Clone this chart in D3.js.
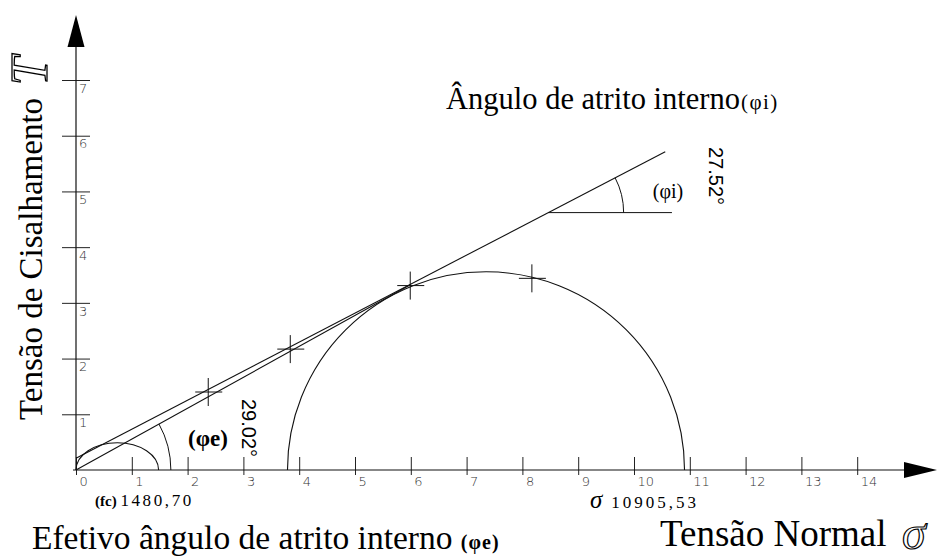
<!DOCTYPE html>
<html>
<head>
<meta charset="utf-8">
<script src="https://cdn.jsdelivr.net/npm/d3@7"></script>
<style>
  body { margin: 0; background: #fff; }
  svg { display: block; }
</style>
</head>
<body>
<svg id="chart" width="942" height="559"></svg>
<script>
// Axis tick values (stress units / 1000)
const xTickValues = [0, 1, 2, 3, 4, 5, 6, 7, 8, 9, 10, 11, 12, 13, 14];
const yTickValues = [1, 2, 3, 4, 5, 6, 7];

// Mohr circles: minor and major principal stresses
const circleSigma3 = [0, 3.79];
const circleSigma1 = [1.4807, 10.90553];
// the small circle is drawn flattened
const circleRise = [0.49, 3.558];

// Marked points on the envelope / circle
const pointSigma = [2.37, 3.84, 5.99, 8.17];
const pointTau = [1.40, 2.17, 3.31, 3.44];

// Failure envelopes
const phiInternal = 27.52;   // degrees
const phiEffective = 29.02;  // degrees
const cohesion = 0.21;
const envelopeEnd = 10.56;
const effectiveEnd = 6.0;
const phiRefLevel = 4.62;    // height of the horizontal used for the (φi) angle
const phiRefEnd = 10.68;
const arcRadiusE = 1.7;
const arcRadiusI = 1.35;

// Labels
const fcValue = "1480,70";
const sigmaValue = "10905,53";
const angleLabelI = "27.52°";
const angleLabelE = "29.02°";

const svg = d3.select("#chart");
const serif = "'Liberation Serif', 'Times New Roman', serif";
const sans = "'Liberation Sans', Arial, sans-serif";
const tickFont = "'DejaVu Sans', sans-serif";

const x = d3.scaleLinear().domain([0, 14]).range([76, 857.2]);
const y = d3.scaleLinear().domain([0, 7]).range([470, 80]);
const rad = d => d * Math.PI / 180;

const ink = "#111";

// ---- axes ----
const gx = svg.append("g").attr("transform", `translate(0,${y(0)})`)
  .call(d3.axisBottom(x).tickValues(xTickValues).tickFormat(d3.format("d")).tickSizeOuter(0));
gx.select(".domain").remove();
gx.selectAll(".tick line").attr("y1", -13).attr("y2", 5).attr("stroke", "#222").attr("stroke-width", 1);
gx.selectAll(".tick text")
  .attr("x", 3).attr("y", 7).attr("dy", "0.71em")
  .attr("text-anchor", "start")
  .attr("font-family", tickFont).attr("font-size", 13).attr("font-weight", 300)
  .attr("fill", "#333");

const gy = svg.append("g").attr("transform", `translate(${x(0)},0)`)
  .call(d3.axisLeft(y).tickValues(yTickValues).tickFormat(d3.format("d")).tickSizeOuter(0));
gy.select(".domain").remove();
gy.selectAll(".tick line").attr("x1", -14).attr("x2", 14).attr("stroke", "#222").attr("stroke-width", 1);
gy.selectAll(".tick text")
  .attr("x", 3).attr("y", 3).attr("dy", "0.71em")
  .attr("text-anchor", "start")
  .attr("font-family", tickFont).attr("font-size", 13).attr("font-weight", 300)
  .attr("fill", "#333");

// axis lines with arrow heads
svg.append("line")
  .attr("x1", x(0) - 3).attr("x2", 904).attr("y1", y(0)).attr("y2", y(0))
  .attr("stroke", ink).attr("stroke-width", 1.2);
svg.append("path")
  .attr("d", `M${904},${y(0) - 8}L${937},${y(0)}L${904},${y(0) + 8}Z`)
  .attr("fill", "#000");
svg.append("line")
  .attr("x1", x(0)).attr("x2", x(0)).attr("y1", y(0)).attr("y2", 46)
  .attr("stroke", ink).attr("stroke-width", 1.2);
svg.append("path")
  .attr("d", `M${x(0) - 8.5},47L${x(0)},15L${x(0) + 8.5},47Z`)
  .attr("fill", "#000");

// ---- Mohr circles ----
const circles = circleSigma3.map((s3, i) => ({ s3, s1: circleSigma1[i], rise: circleRise[i] }));
svg.append("g").selectAll("path").data(circles).join("path")
  .attr("d", c => {
    const rx = (x(c.s1) - x(c.s3)) / 2;
    const ry = y(0) - y(c.rise);
    return `M${x(c.s3)},${y(0)}A${rx},${ry} 0 0 1 ${x(c.s1)},${y(0)}`;
  })
  .attr("fill", "none").attr("stroke", ink).attr("stroke-width", 1.1);

// ---- envelopes ----
const tanI = Math.tan(rad(phiInternal));
const tanE = Math.tan(rad(phiEffective));
svg.append("line")
  .attr("x1", x(0)).attr("y1", y(cohesion))
  .attr("x2", x(envelopeEnd)).attr("y2", y(cohesion + tanI * envelopeEnd))
  .attr("stroke", ink).attr("stroke-width", 1.1);
svg.append("line")
  .attr("x1", x(0)).attr("y1", y(0))
  .attr("x2", x(effectiveEnd)).attr("y2", y(tanE * effectiveEnd))
  .attr("stroke", ink).attr("stroke-width", 1.1);

// ---- crosses at the marked points ----
const pts = pointSigma.map((s, i) => ({ s, t: pointTau[i] }));
const cross = svg.append("g").selectAll("g").data(pts).join("g")
  .attr("transform", p => `translate(${x(p.s)},${y(p.t)})`);
cross.append("line").attr("x1", -13).attr("x2", 14).attr("y1", 0).attr("y2", 0)
  .attr("stroke", ink).attr("stroke-width", 1);
cross.append("line").attr("x1", 0).attr("x2", 0).attr("y1", -14).attr("y2", 14)
  .attr("stroke", ink).attr("stroke-width", 1);

// ---- angle (φe) at the origin ----
const rE = x(arcRadiusE) - x(0);
const pathE = d3.path();
pathE.arc(x(0), y(0), rE, 0, -rad(phiEffective), true);
svg.append("path").attr("d", pathE.toString())
  .attr("fill", "none").attr("stroke", ink).attr("stroke-width", 1);

// ---- angle (φi) on the envelope ----
const xRef = (phiRefLevel - cohesion) / tanI;
svg.append("line")
  .attr("x1", x(xRef)).attr("y1", y(phiRefLevel))
  .attr("x2", x(phiRefEnd)).attr("y2", y(phiRefLevel))
  .attr("stroke", ink).attr("stroke-width", 1);
const rI = x(arcRadiusI) - x(0);
const pathI = d3.path();
pathI.arc(x(xRef), y(phiRefLevel), rI, 0, -rad(phiInternal), true);
svg.append("path").attr("d", pathI.toString())
  .attr("fill", "none").attr("stroke", ink).attr("stroke-width", 1);

// ---- angle labels ----
svg.append("text")
  .attr("x", 208).attr("y", 446)
  .attr("text-anchor", "middle")
  .attr("font-family", serif).attr("font-weight", "bold").attr("font-size", 23)
  .text("(φe)");
svg.append("text")
  .attr("transform", "translate(242,428) rotate(90)")
  .attr("text-anchor", "middle")
  .attr("font-family", sans).attr("font-size", 20)
  .text(angleLabelE);
svg.append("text")
  .attr("x", 668).attr("y", 198)
  .attr("text-anchor", "middle")
  .attr("font-family", serif).attr("font-size", 20)
  .text("(φi)");
svg.append("text")
  .attr("transform", "translate(709,176) rotate(90)")
  .attr("text-anchor", "middle")
  .attr("font-family", sans).attr("font-size", 20)
  .text(angleLabelI);

// ---- titles ----
const titleTop = svg.append("text")
  .attr("x", 446).attr("y", 109)
  .attr("font-family", serif).attr("font-size", 30.5);
titleTop.append("tspan").text("Ângulo de atrito interno");
titleTop.append("tspan").attr("dx", 1).attr("font-size", 21).attr("letter-spacing", 1.5).text("(φi)");

const titleBottom = svg.append("text")
  .attr("x", 32).attr("y", 549)
  .attr("font-family", serif).attr("font-size", 33.5);
titleBottom.append("tspan").text("Efetivo ângulo de atrito interno ");
titleBottom.append("tspan").attr("font-size", 20).attr("font-weight", "bold").attr("letter-spacing", 1).text("(φe)");

svg.append("text")
  .attr("x", 660).attr("y", 546)
  .attr("font-family", serif).attr("font-size", 37)
  .text("Tensão Normal");
svg.append("text")
  .attr("x", 902).attr("y", 549)
  .attr("font-family", serif).attr("font-style", "italic").attr("font-size", 48)
  .attr("fill", "#fff").attr("stroke", "#000").attr("stroke-width", 1.2)
  .text("σ");

svg.append("text")
  .attr("transform", "translate(42,259) rotate(-90)")
  .attr("text-anchor", "middle")
  .attr("font-family", serif).attr("font-size", 33)
  .text("Tensão de Cisalhamento");
svg.append("text")
  .attr("transform", "translate(47,71) rotate(-90)")
  .attr("text-anchor", "middle")
  .attr("font-family", serif).attr("font-style", "italic").attr("font-size", 52)
  .attr("fill", "#fff").attr("stroke", "#000").attr("stroke-width", 1.3)
  .text("T");

// ---- values under the axis ----
const fcLabel = svg.append("text")
  .attr("x", 95).attr("y", 506)
  .attr("font-family", serif).attr("font-size", 17);
fcLabel.append("tspan").attr("font-weight", "bold").attr("font-size", 15).text("(fc) ");
fcLabel.append("tspan").attr("letter-spacing", 2.6).text(fcValue);

const sigmaLabel = svg.append("text")
  .attr("x", 590).attr("y", 508)
  .attr("font-family", serif).attr("font-size", 17);
sigmaLabel.append("tspan").attr("font-style", "italic").attr("font-size", 25).text("σ");
sigmaLabel.append("tspan").attr("dx", 9).attr("letter-spacing", 3).text(sigmaValue);
</script>
</body>
</html>
